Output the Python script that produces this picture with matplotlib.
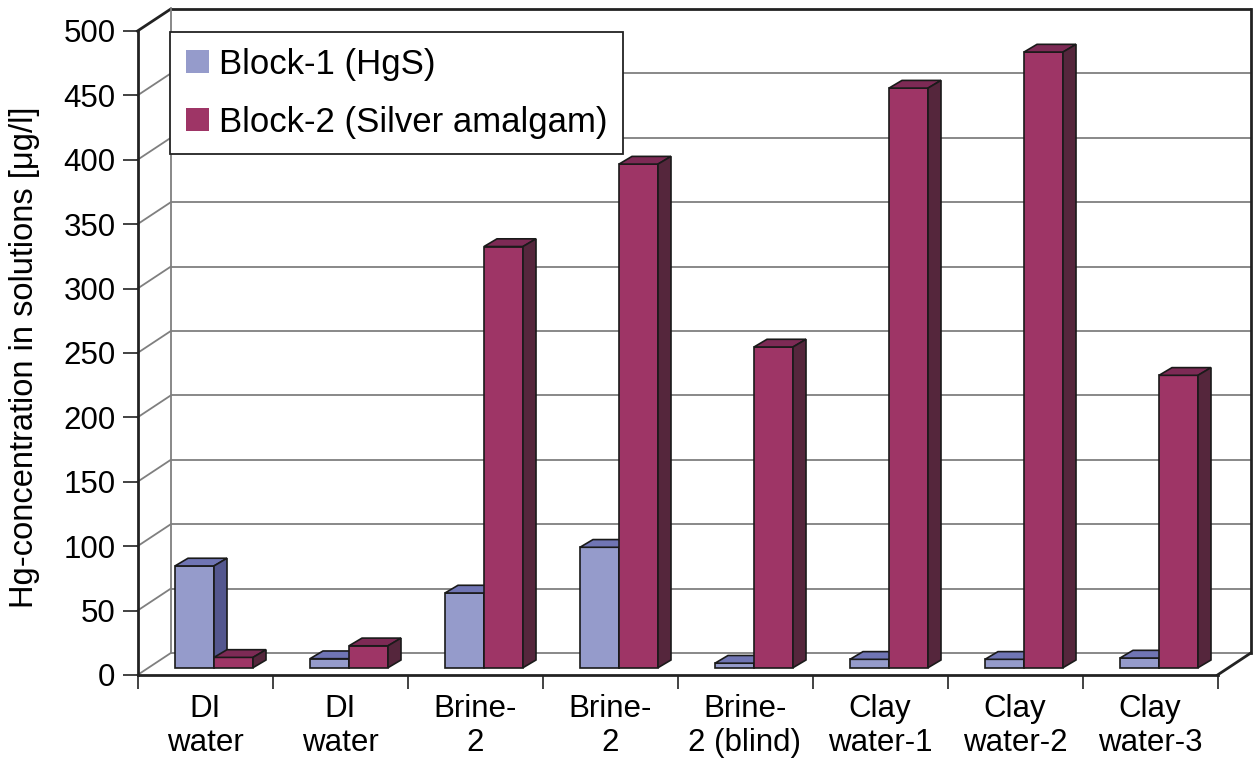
import matplotlib
matplotlib.use("Agg")
import matplotlib.pyplot as plt
from matplotlib.patches import Polygon, Patch

plt.rcParams['font.family'] = ['Liberation Sans', 'DejaVu Sans']

# ---- data -------------------------------------------------------------
categories = ["DI\nwater", "DI\nwater", "Brine-\n2", "Brine-\n2",
              "Brine-\n2 (blind)", "Clay\nwater-1", "Clay\nwater-2", "Clay\nwater-3"]
block1_hgs = [79, 7, 58, 93.5, 3.5, 6.5, 6.5, 7.5]
block2_amalgam = [8, 17, 327, 391, 249, 450, 478, 227]
series_names = ["Block-1 (HgS)", "Block-2 (Silver amalgam)"]
y_ticks = list(range(0, 501, 50))

# ---- styling ----------------------------------------------------------
W, H = 1253, 769
face_colors = [("#959bcb", "#7075b4", "#54578f"),   # front, top, side
               ("#9e3566", "#7d2a55", "#55263c")]
edge = "#1a1a1a"
grid_gray = "#7f7f7f"
frame = "#222222"

fig = plt.figure(figsize=(W / 100, H / 100), dpi=100)
# front plane of the value axis
ax_left, ax_bottom, ax_w, ax_h = 137.5, 675, 1080, 644
ax = fig.add_axes([ax_left / W, (H - ax_bottom) / H, ax_w / W, ax_h / H])
n = len(categories)
ax.set_xlim(0, n)
ax.set_ylim(0, 500)
ax.set_facecolor("none")

px_x = ax_w / n          # pixels per category
px_y = ax_h / 500.0      # pixels per value unit

def to_dx(p):
    return p / px_x

def to_dy(p):
    return p / px_y

# depth of the box (back wall offset)
DX, DY = to_dx(33.3), to_dy(22.0)

# back wall grid and side wall grid
for v in y_ticks:
    col = frame if v == 500 else grid_gray
    lw = 2.0 if v == 500 else 1.3
    ax.plot([DX, n + DX], [v + DY, v + DY], color=col, lw=lw, zorder=1,
            clip_on=False, solid_capstyle="butt")
    ax.plot([0, DX], [v, v + DY], color=col, lw=lw, zorder=1, clip_on=False)
ax.plot([DX, DX], [DY, 500 + DY], color=grid_gray, lw=1.3, zorder=1, clip_on=False)
# outer frame
ax.plot([n + DX, n + DX], [DY, 500 + DY], color=frame, lw=2.0, zorder=2, clip_on=False)
ax.plot([n, n + DX], [0, DY], color=frame, lw=2.0, zorder=2, clip_on=False)

# bar geometry (pixels converted to data units)
FX, FY = to_dx(37.5), to_dy(7.3)
BW = to_dx(39.0)
BDX, BDY = to_dx(13.0), to_dy(7.7)

series = [block1_hgs, block2_amalgam]
for i in range(n):
    for s, vals in enumerate(series):
        v = vals[i]
        x0 = i + FX + s * BW
        x1 = x0 + BW
        y0 = FY
        y1 = FY + v
        front, top, side = face_colors[s]
        z = 3 + 0.01 * (i * 2 + s)
        polys = [
            ([(x0, y0), (x1, y0), (x1, y1), (x0, y1)], front),
            ([(x0, y1), (x1, y1), (x1 + BDX, y1 + BDY), (x0 + BDX, y1 + BDY)], top),
            ([(x1, y0), (x1 + BDX, y0 + BDY), (x1 + BDX, y1 + BDY), (x1, y1)], side),
        ]
        for pts, fc in polys:
            ax.add_patch(Polygon(pts, closed=True, facecolor=fc, edgecolor=edge,
                                 lw=1.2, joinstyle="miter", zorder=z, clip_on=False))

# axes spines and ticks
for sp in ("top", "right"):
    ax.spines[sp].set_visible(False)
for sp in ("left", "bottom"):
    ax.spines[sp].set_color(frame)
    ax.spines[sp].set_linewidth(2.0)
    ax.spines[sp].set_zorder(2)

ax.set_yticks(y_ticks)
ax.set_yticklabels([str(t) for t in y_ticks])
ax.tick_params(axis="y", direction="out", length=10.8, width=1.2, color=frame,
               pad=5, labelsize=22.5)

ax.set_xticks(range(n + 1))
ax.set_xticklabels([])
ax.set_xticks([i + 0.5 for i in range(n)], minor=True)
ax.set_xticklabels(categories, minor=True, fontsize=22.5, linespacing=1.15)
ax.tick_params(axis="x", which="major", direction="out", length=10, width=1.2, color=frame)
ax.tick_params(axis="x", which="minor", length=0, pad=14)

fig.text(25 / W, 1 - 357 / H, "Hg-concentration in solutions [\u03bcg/l]",
         rotation=90, ha="center", va="center", fontsize=23.5)

handles = [Patch(facecolor=face_colors[0][0], edgecolor="none"),
           Patch(facecolor=face_colors[1][0], edgecolor="none")]
leg = ax.legend(handles, series_names, loc="upper left",
                bbox_to_anchor=(170 / W, 1 - 32 / H), bbox_transform=fig.transFigure,
                borderaxespad=0, fontsize=25, handlelength=0.66, handleheight=0.66,
                handletextpad=0.3, labelspacing=0.72, borderpad=0.45,
                fancybox=False, framealpha=1, edgecolor=frame)
leg.get_frame().set_linewidth(1.3)
leg.set_zorder(10)

fig.savefig("out.png", dpi=100)
